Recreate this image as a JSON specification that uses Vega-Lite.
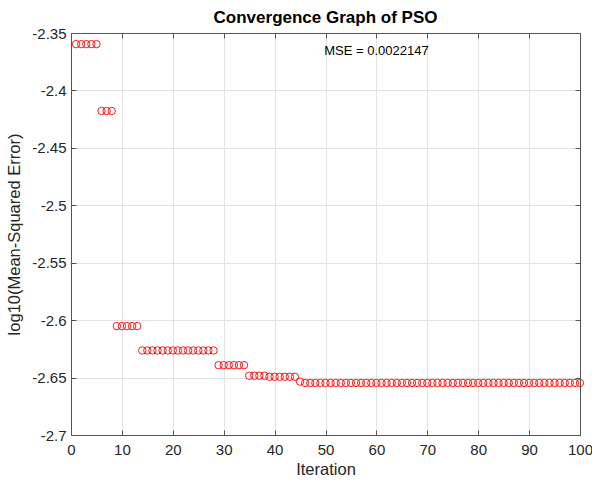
{
  "$schema": "https://vega.github.io/schema/vega-lite/v6.json",
  "width": 509,
  "height": 402,
  "autosize": {"type": "none"},
  "padding": {"left": 71, "top": 33, "right": 12, "bottom": 48},
  "background": "white",
  "title": {"text": "Convergence Graph of PSO", "font": "Liberation Sans", "fontSize": 17, "fontWeight": "bold", "color": "#000000", "anchor": "middle", "frame": "group", "offset": -1},
  "config": {
    "view": {"stroke": "#555555", "strokeWidth": 1},
    "axis": {"labelFont": "Liberation Sans", "titleFont": "Liberation Sans", "labelColor": "#262626", "titleColor": "#262626", "labelFontSize": 15, "titleFontSize": 16.5, "titleFontWeight": "normal", "domainColor": "#555555", "tickColor": "#555555", "gridColor": "#e3e3e3", "gridWidth": 1}
  },
  "datasets": {
    "pso": [
    {"iteration": 1, "log10mse": -2.3597}, {"iteration": 2, "log10mse": -2.3597}, {"iteration": 3, "log10mse": -2.3597}, {"iteration": 4, "log10mse": -2.3597}, {"iteration": 5, "log10mse": -2.3597},
    {"iteration": 6, "log10mse": -2.4179}, {"iteration": 7, "log10mse": -2.4179}, {"iteration": 8, "log10mse": -2.4179},
    {"iteration": 9, "log10mse": -2.6052}, {"iteration": 10, "log10mse": -2.6052}, {"iteration": 11, "log10mse": -2.6052}, {"iteration": 12, "log10mse": -2.6052}, {"iteration": 13, "log10mse": -2.6052},
    {"iteration": 14, "log10mse": -2.6264}, {"iteration": 15, "log10mse": -2.6264}, {"iteration": 16, "log10mse": -2.6264}, {"iteration": 17, "log10mse": -2.6264}, {"iteration": 18, "log10mse": -2.6264}, {"iteration": 19, "log10mse": -2.6264}, {"iteration": 20, "log10mse": -2.6264}, {"iteration": 21, "log10mse": -2.6264}, {"iteration": 22, "log10mse": -2.6264}, {"iteration": 23, "log10mse": -2.6264}, {"iteration": 24, "log10mse": -2.6264}, {"iteration": 25, "log10mse": -2.6264}, {"iteration": 26, "log10mse": -2.6264}, {"iteration": 27, "log10mse": -2.6264}, {"iteration": 28, "log10mse": -2.6264},
    {"iteration": 29, "log10mse": -2.6392}, {"iteration": 30, "log10mse": -2.6392}, {"iteration": 31, "log10mse": -2.6392}, {"iteration": 32, "log10mse": -2.6392}, {"iteration": 33, "log10mse": -2.6392}, {"iteration": 34, "log10mse": -2.6392},
    {"iteration": 35, "log10mse": -2.6484}, {"iteration": 36, "log10mse": -2.6484}, {"iteration": 37, "log10mse": -2.6484}, {"iteration": 38, "log10mse": -2.6484},
    {"iteration": 39, "log10mse": -2.6493}, {"iteration": 40, "log10mse": -2.6493}, {"iteration": 41, "log10mse": -2.6493}, {"iteration": 42, "log10mse": -2.6493}, {"iteration": 43, "log10mse": -2.6493}, {"iteration": 44, "log10mse": -2.6493},
    {"iteration": 45, "log10mse": -2.6535},
    {"iteration": 46, "log10mse": -2.6547}, {"iteration": 47, "log10mse": -2.6547}, {"iteration": 48, "log10mse": -2.6547}, {"iteration": 49, "log10mse": -2.6547}, {"iteration": 50, "log10mse": -2.6547},
    {"iteration": 51, "log10mse": -2.6547}, {"iteration": 52, "log10mse": -2.6547}, {"iteration": 53, "log10mse": -2.6547}, {"iteration": 54, "log10mse": -2.6547}, {"iteration": 55, "log10mse": -2.6547},
    {"iteration": 56, "log10mse": -2.6547}, {"iteration": 57, "log10mse": -2.6547}, {"iteration": 58, "log10mse": -2.6547}, {"iteration": 59, "log10mse": -2.6547}, {"iteration": 60, "log10mse": -2.6547},
    {"iteration": 61, "log10mse": -2.6547}, {"iteration": 62, "log10mse": -2.6547}, {"iteration": 63, "log10mse": -2.6547}, {"iteration": 64, "log10mse": -2.6547}, {"iteration": 65, "log10mse": -2.6547},
    {"iteration": 66, "log10mse": -2.6547}, {"iteration": 67, "log10mse": -2.6547}, {"iteration": 68, "log10mse": -2.6547}, {"iteration": 69, "log10mse": -2.6547}, {"iteration": 70, "log10mse": -2.6547},
    {"iteration": 71, "log10mse": -2.6547}, {"iteration": 72, "log10mse": -2.6547}, {"iteration": 73, "log10mse": -2.6547}, {"iteration": 74, "log10mse": -2.6547}, {"iteration": 75, "log10mse": -2.6547},
    {"iteration": 76, "log10mse": -2.6547}, {"iteration": 77, "log10mse": -2.6547}, {"iteration": 78, "log10mse": -2.6547}, {"iteration": 79, "log10mse": -2.6547}, {"iteration": 80, "log10mse": -2.6547},
    {"iteration": 81, "log10mse": -2.6547}, {"iteration": 82, "log10mse": -2.6547}, {"iteration": 83, "log10mse": -2.6547}, {"iteration": 84, "log10mse": -2.6547}, {"iteration": 85, "log10mse": -2.6547},
    {"iteration": 86, "log10mse": -2.6547}, {"iteration": 87, "log10mse": -2.6547}, {"iteration": 88, "log10mse": -2.6547}, {"iteration": 89, "log10mse": -2.6547}, {"iteration": 90, "log10mse": -2.6547},
    {"iteration": 91, "log10mse": -2.6547}, {"iteration": 92, "log10mse": -2.6547}, {"iteration": 93, "log10mse": -2.6547}, {"iteration": 94, "log10mse": -2.6547}, {"iteration": 95, "log10mse": -2.6547},
    {"iteration": 96, "log10mse": -2.6547}, {"iteration": 97, "log10mse": -2.6547}, {"iteration": 98, "log10mse": -2.6547}, {"iteration": 99, "log10mse": -2.6547}, {"iteration": 100, "log10mse": -2.6547}
    ],
    "note": [{"label": "MSE = 0.0022147", "iteration": 60, "log10mse": -2.3657}]
  },
  "layer": [
    {
      "data": {"name": "pso"},
      "mark": {"type": "point", "shape": "circle", "filled": false, "stroke": "#ff0000", "strokeWidth": 0.9, "size": 55, "opacity": 1, "clip": false},
      "encoding": {
        "x": {"field": "iteration", "type": "quantitative", "scale": {"domain": [0, 100], "nice": false, "zero": false},
              "axis": {"orient": "bottom", "title": "Iteration", "values": [0,10,20,30,40,50,60,70,80,90,100], "tickSize": -5, "labelPadding": 12, "titlePadding": 4, "grid": true, "labelFlush": false}},
        "y": {"field": "log10mse", "type": "quantitative", "scale": {"domain": [-2.7, -2.35], "nice": false, "zero": false},
              "axis": {"orient": "left", "title": "log10(Mean-Squared Error)", "values": [-2.7,-2.65,-2.6,-2.55,-2.5,-2.45,-2.4,-2.35], "labelExpr": "replace(format(datum.value, '~g'), '\u2212', '-')", "tickSize": -5, "labelPadding": 10, "titlePadding": 9, "grid": true, "labelFlush": false}}
      }
    },
    {
      "data": {"name": "pso"},
      "mark": {"type": "point", "opacity": 0},
      "encoding": {
        "x": {"field": "iteration", "type": "quantitative", "axis": {"orient": "top", "title": null, "labels": false, "values": [0,10,20,30,40,50,60,70,80,90,100], "tickSize": -5, "grid": false}},
        "y": {"field": "log10mse", "type": "quantitative", "axis": {"orient": "right", "title": null, "labels": false, "values": [-2.7,-2.65,-2.6,-2.55,-2.5,-2.45,-2.4,-2.35], "tickSize": -5, "grid": false}}
      }
    },
    {
      "data": {"name": "note"},
      "mark": {"type": "text", "font": "Liberation Sans", "fontSize": 13, "color": "#000000", "align": "center", "baseline": "middle"},
      "encoding": {
        "text": {"field": "label", "type": "nominal"},
        "x": {"field": "iteration", "type": "quantitative", "axis": null},
        "y": {"field": "log10mse", "type": "quantitative", "axis": null}
      }
    }
  ],
  "resolve": {"axis": {"x": "independent", "y": "independent"}}
}
